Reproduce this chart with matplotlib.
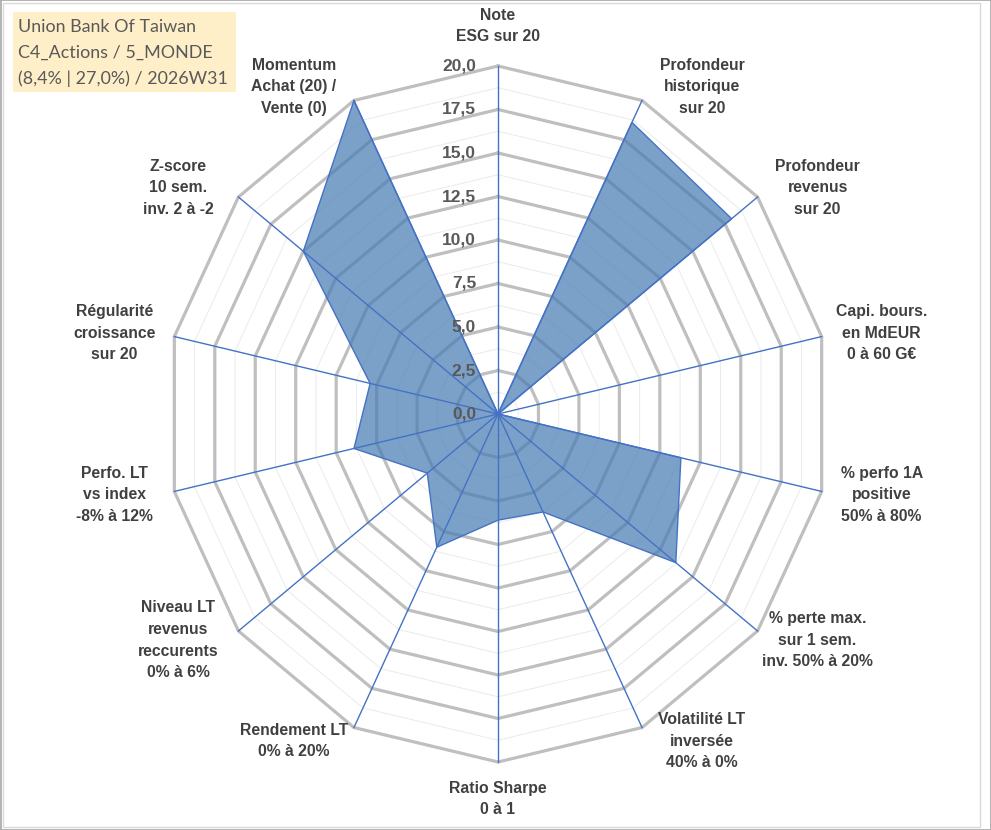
import matplotlib
matplotlib.use("Agg")
import matplotlib.pyplot as plt
from matplotlib.patches import Rectangle
import numpy as np

# axes du radar, dans le sens des aiguilles d'une montre depuis le haut
labels = [
    "Note\nESG sur 20",
    "Profondeur\nhistorique\nsur 20",
    "Profondeur\nrevenus\nsur 20",
    "Capi. bours.\nen MdEUR\n0 à 60 G€",
    "% perfo 1A\npositive\n50% à 80%",
    "% perte max.\nsur 1 sem.\ninv. 50% à 20%",
    "Volatilité LT\ninversée\n40% à 0%",
    "Ratio Sharpe\n0 à 1",
    "Rendement LT\n0% à 20%",
    "Niveau LT\nrevenus\nreccurents\n0% à 6%",
    "Perfo. LT\nvs index\n-8% à 12%",
    "Régularité\ncroissance\nsur 20",
    "Z-score\n10 sem.\ninv. 2 à -2",
    "Momentum\nAchat (20) /\nVente (0)",
]
scores = [0.0, 18.6, 18.0, 0.0, 11.3, 13.7, 6.25, 6.1, 8.5, 5.45, 8.9, 7.9, 15.0, 20.0]
ticks = [0.0, 2.5, 5.0, 7.5, 10.0, 12.5, 15.0, 17.5, 20.0]
tick_labels = ["0,0", "2,5", "5,0", "7,5", "10,0", "12,5", "15,0", "17,5", "20,0"]
title_lines = ["Union Bank Of Taiwan", "C4_Actions / 5_MONDE", "(8,4% | 27,0%) / 2026W31"]

W, H = 991, 830
cx, cy = 498, 416      # centre en pixels (depuis le bas)
kx = 332 / 20.0        # pixels par unité, horizontal
ky = 348 / 20.0        # pixels par unité, vertical (le radar Excel est un peu étiré)
rmax = 20.0

fig = plt.figure(figsize=(W / 100, H / 100), dpi=100)
ax = fig.add_axes([0, 0, 1, 1])
ax.set_xlim(-cx / kx, (W - cx) / kx)
ax.set_ylim(-cy / ky, (H - cy) / ky)
ax.axis("off")

n = len(labels)
theta = np.pi / 2 - np.arange(n) * 2 * np.pi / n
tc = np.append(theta, theta[0])

# grille polygonale
for r in np.arange(1.25, rmax + 0.01, 1.25):
    major = abs(r / 2.5 - round(r / 2.5)) < 1e-6
    ax.plot(r * np.cos(tc), r * np.sin(tc),
            color="#BFBFBF" if major else "#EBEBEB",
            lw=2.3 if major else 0.7, zorder=1, solid_joinstyle="miter")

# série
sc = np.append(scores, scores[0])
ax.fill(sc * np.cos(tc), sc * np.sin(tc), color="#4A7DB5", alpha=0.72, lw=0, zorder=2)
ax.plot(sc * np.cos(tc), sc * np.sin(tc), color="#4472C4", lw=1.0, zorder=3)

# rayons
for t in theta:
    ax.plot([0, rmax * np.cos(t)], [0, rmax * np.sin(t)], color="#4472C4", lw=1.0, zorder=3)

# étiquettes des axes : décalées depuis le sommet, à la manière d'Excel
for t, lab in zip(theta, labels):
    c, s = np.cos(t), np.sin(t)
    x0, y0 = rmax * c, rmax * s
    if abs(c) < 1e-6:
        dx, dy = 0, (40 if s > 0 else -37)
    else:
        dx, dy = 60 * np.sign(c), 15 * s
    ax.text(x0 + dx / kx, y0 + dy / ky, lab, ha="center", va="center",
            fontsize=11.3, fontweight="bold", color="#404040",
            family="Liberation Sans", linespacing=1.55, zorder=5)

# graduations
for v, s in zip(ticks, tick_labels):
    ax.text(-22 / kx, v, s, ha="right", va="center", fontsize=12.5, fontweight="bold",
            color="#595959", family="Liberation Sans", zorder=5)

# cartouche titre
fig.patches.append(Rectangle((13 / W, 1 - 92 / H), 223 / W, 80 / H, transform=fig.transFigure,
                             facecolor="#FFEFC9", edgecolor="none", zorder=4))
for i, s in enumerate(title_lines):
    fig.text(18 / W, 1 - (27 + 26 * i) / H, s, ha="left", va="center", fontsize=12.9,
             color="#595959", family="Lato", zorder=6)

# cadres
fig.patches.append(Rectangle((3 / W, 3 / H), 977 / W, 824 / H, transform=fig.transFigure,
                             facecolor="none", edgecolor="#D9D9D9", lw=1))
fig.patches.append(Rectangle((0.5 / W, 0.5 / H), (W - 1) / W, (H - 1) / H, transform=fig.transFigure,
                             facecolor="none", edgecolor="#A6A6A6", lw=1.2))

fig.savefig("out.png", dpi=100)
